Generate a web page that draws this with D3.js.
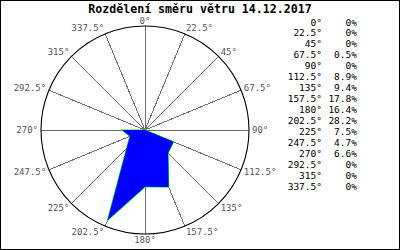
<!DOCTYPE html>
<html>
<head>
<meta charset="utf-8">
<script src="https://cdn.jsdelivr.net/npm/d3@7"></script>
<style>
  body { margin: 0; background: #fff; }
  svg { display: block; }
</style>
</head>
<body>
<div id="chart"></div>
<script>
// wind directions (degrees) and share of time (%)
const directions = [0, 22.5, 45, 67.5, 90, 112.5, 135, 157.5, 180, 202.5, 225, 247.5, 270, 292.5, 315, 337.5];
const shares = [0, 0, 0, 0.5, 0, 8.9, 9.4, 17.8, 16.4, 28.2, 7.5, 4.7, 6.6, 0, 0, 0];
const shareLabels = ["0%", "0%", "0%", "0.5%", "0%", "8.9%", "9.4%", "17.8%", "16.4%", "28.2%", "7.5%", "4.7%", "6.6%", "0%", "0%", "0%"];
const title = "Rozdělení směru větru 14.12.2017";

const width = 400;
const height = 250;
const cx = 145, cy = 130, R = 104;

const svg = d3.select("#chart").append("svg")
    .attr("width", width)
    .attr("height", height);

svg.append("rect")
    .attr("x", 0.5).attr("y", 0.5)
    .attr("width", width - 1).attr("height", height - 1)
    .attr("fill", "#fff")
    .attr("stroke", "#000");

svg.append("text")
    .attr("x", 200).attr("y", 9)
    .attr("text-anchor", "middle")
    .attr("dominant-baseline", "central")
    .attr("font-family", "'DejaVu Sans Mono', monospace")
    .attr("font-weight", "bold")
    .attr("font-size", "11.6px")
    .text(title);

let r = d3.scaleLinear().domain([0, 30]).range([0, R]);
let rad = d => d * Math.PI / 180;

let g = svg.append("g").attr("transform", "translate(" + cx + "," + cy + ")");

// spokes
g.selectAll(".spoke")
    .data(directions)
    .enter().append("line")
    .attr("class", "spoke")
    .attr("x1", 0).attr("y1", 0)
    .attr("x2", d => R * Math.sin(rad(d)))
    .attr("y2", d => -R * Math.cos(rad(d)))
    .attr("stroke", "#707070")
    .attr("stroke-width", 1)
    .attr("shape-rendering", "crispEdges");

// outer circle
g.append("circle")
    .attr("r", R)
    .attr("fill", "none")
    .attr("stroke", "#000")
    .attr("stroke-width", 1.1);

// polygon
let radial = d3.lineRadial()
    .angle((d, i) => rad(directions[i]))
    .radius(d => r(d))
    .curve(d3.curveLinearClosed);

g.append("path")
    .attr("d", radial(shares))
    .attr("fill", "none")
    .attr("stroke", "#00ee00")
    .attr("stroke-width", 1.2);

g.append("path")
    .attr("d", radial(shares))
    .attr("fill", "#0000ff")
    .attr("stroke", "none");

// direction labels
g.selectAll(".dir")
    .data(directions)
    .enter().append("text")
    .attr("class", "dir")
    .attr("x", d => (R + 3) * Math.sin(rad(d)))
    .attr("y", d => -(R + 6) * Math.cos(rad(d)) + (d === 0 ? 1 : 0))
    .attr("text-anchor", d => {
        let s = Math.sin(rad(d));
        return s > 0.1 ? "start" : (s < -0.1 ? "end" : "middle");
    })
    .attr("dominant-baseline", "central")
    .attr("font-family", "'DejaVu Sans Mono', monospace")
    .attr("font-size", "9px")
    .attr("fill", "#555")
    .text(d => d + "°");

// table on the right
let rowY = d3.scalePoint().domain(directions).range([22, 186]);

let table = svg.append("g")
    .attr("font-family", "'DejaVu Sans Mono', monospace")
    .attr("font-size", "9.5px")
    .attr("fill", "#000");

table.selectAll(".tdir")
    .data(directions)
    .enter().append("text")
    .attr("x", 322)
    .attr("y", d => rowY(d))
    .attr("text-anchor", "end")
    .attr("dominant-baseline", "central")
    .text(d => d + "°");

table.selectAll(".tval")
    .data(shareLabels)
    .enter().append("text")
    .attr("x", 357)
    .attr("y", (d, i) => rowY(directions[i]))
    .attr("text-anchor", "end")
    .attr("dominant-baseline", "central")
    .text(d => d);
</script>
</body>
</html>
